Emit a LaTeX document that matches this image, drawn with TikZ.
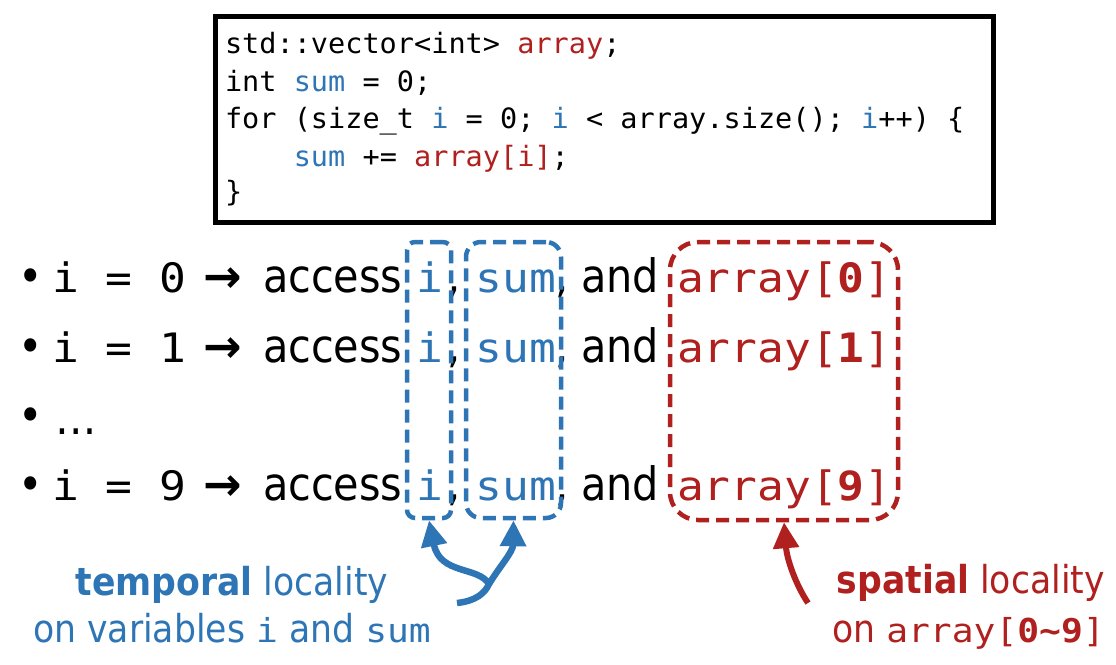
\documentclass[tikz,border=0pt]{standalone}
\usepackage{fontspec}
\setmainfont{DejaVu Sans}[FakeStretch=0.9]
\newfontfamily\mono{DejaVu Sans Mono}[FakeStretch=1.1]
\newfontfamily\codemono{DejaVu Sans Mono}[FakeStretch=1.02]
\newfontfamily\arrowfont{DejaVu Sans}
\usetikzlibrary{arrows.meta}
\definecolor{cblue}{RGB}{46,117,182}
\definecolor{cred}{RGB}{176,32,30}
\newcommand\codefnt{\codemono\fontsize{28}{32}\selectfont}
\newcommand\rowsans{\fontsize{46}{52}\selectfont}
\newcommand\rowmono{\mono\fontsize{40.5}{46}\selectfont}
\newcommand\labsans{\fontsize{38.5}{44}\selectfont}
\newcommand\labmono{\mono\fontsize{33}{38}\selectfont}
\tikzset{
  txt/.style={inner sep=0pt, outer sep=0pt, anchor=base west},
  ctxt/.style={inner sep=0pt, outer sep=0pt, anchor=base},
  dbox/.style={draw, line width=4.5pt, dash pattern=on 13pt off 7pt, inner sep=0pt},
  barrow/.style={draw=cblue, line width=6.5pt, -{Triangle[length=26pt,width=25pt]}},
  rarrow/.style={draw=cred, line width=6pt, -{Triangle[length=26pt,width=25pt]}}
}
\begin{document}
\begin{tikzpicture}[x=1pt,y=-1pt]
\useasboundingbox (0,0) rectangle (1116,664);
% code box
\node[draw, line width=4.5pt, minimum width=778pt, minimum height=206pt, anchor=north west, inner sep=0pt] (code) at (213,14) {};
\node[txt] (c1) at (225,53) {\codefnt std::vector<int> \textcolor{cred}{array};};
\node[txt] (c2) at (225,91) {\codefnt int \textcolor{cblue}{sum} = 0;};
\node[txt] (c3) at (225,128) {\codefnt for (size\_t \textcolor{cblue}{i} = 0; \textcolor{cblue}{i} < array.size(); \textcolor{cblue}{i}++) \{};
\node[txt] (c4) at (225,166) {\codefnt \phantom{int~}\textcolor{cblue}{sum} += \textcolor{cred}{array[i]};};
\node[txt] (c5) at (225,201) {\codefnt \}};
% rows
\foreach \yy/\dd/\nm in {292/0/a, 362/1/b, 500/9/c}{
  \node[txt] (bul\nm) at (19,\yy) {\rowsans •};
  \node[txt] (eq\nm) at (52,\yy) {\rowmono i = \dd};
  \node[txt] (to\nm) at (203,\yy) {\rowsans\arrowfont\bfseries →};
  \node[txt] (acc\nm) at (263,\yy) {\rowsans access};
  \node[ctxt] (vi\nm) at (430,\yy) {\rowmono\color{cblue}i};
  \node[txt] (ca\nm) at (447,\yy) {\rowsans ,};
  \node[ctxt] (vs\nm) at (516,\yy) {\rowmono\color{cblue}sum};
  \node[txt] (cb\nm) at (555,\yy) {\rowsans ,};
  \node[txt] (and\nm) at (581,\yy) {\rowsans and};
  \node[txt] (ar\nm) at (677,\yy) {\rowmono\color{cred}array[\textbf{\dd}]};
}
\node[txt] (buld) at (19,431) {\rowsans •};
\node[txt] (dots) at (55,434) {\rowsans …};
% dashed boxes
\node[dbox, draw=cblue, rounded corners=8pt, minimum width=44pt, minimum height=276pt] (boxi) at (429,380) {};
\node[dbox, draw=cblue, rounded corners=15pt, minimum width=95pt, minimum height=276pt] (boxs) at (513.5,380) {};
\node[dbox, draw=cred, rounded corners=28pt, minimum width=228pt, minimum height=278pt] (boxa) at (784,381) {};
% labels
\node[ctxt] (tl1) at (232,595) {\labsans\color{cblue}\textbf{temporal} locality};
\node[ctxt] (tl2) at (232,642) {\labsans\color{cblue}on variables {\labmono i} and {\labmono sum}};
\node[inner sep=0pt, anchor=base east] (sl1) at (1105,593) {\labsans\color{cred}\textbf{spatial} locality};
\node[inner sep=0pt, anchor=base east] (sl2) at (1105,642) {\labsans\color{cred}on {\labmono array[\textbf{0\textasciitilde9}]}};
% arrows
\coordinate (ttail) at (457,603);
\coordinate (junc) at (489,584);
\coordinate (rtail) at (808,603);
\draw[barrow] (ttail) .. controls (476,601) and (485,593) .. (junc) .. controls (500,566) and (513,552) .. (boxs.south);
\draw[barrow] (junc) .. controls (478,566) and (440,575) .. (boxi.south);
\draw[rarrow] (rtail) .. controls (796,585) and (787,560) .. (boxa.south);
\end{tikzpicture}
\end{document}
